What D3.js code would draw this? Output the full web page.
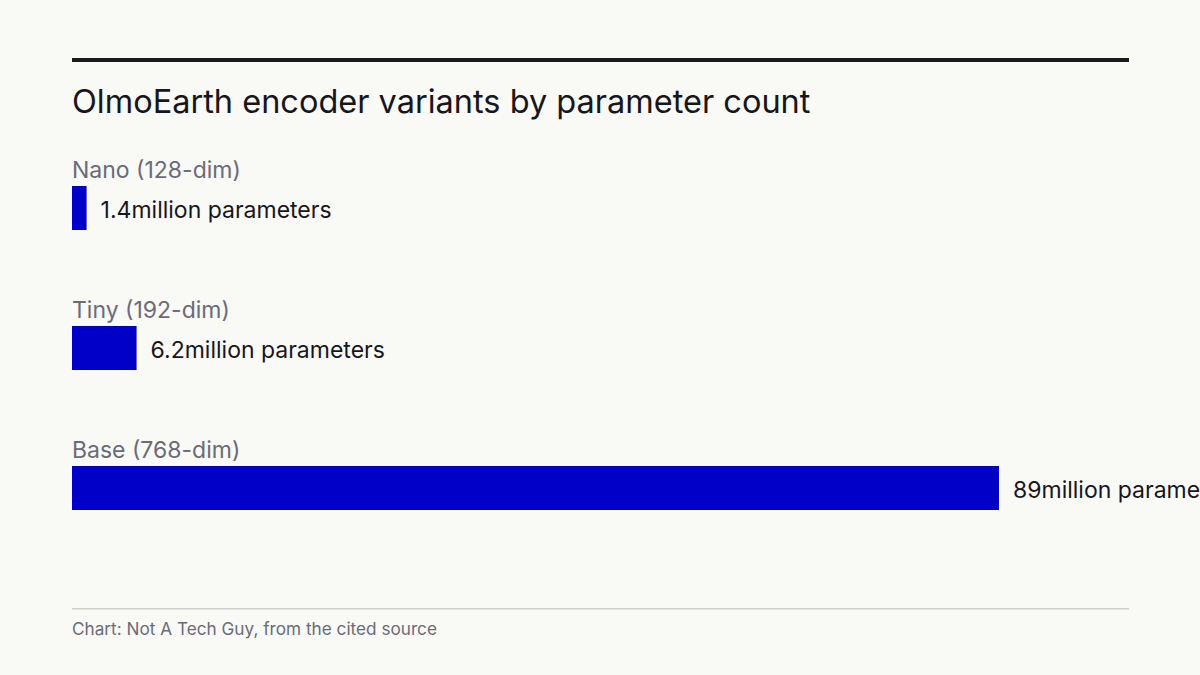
<!DOCTYPE html>
<html><head><meta charset="utf-8">
<script src="https://cdn.jsdelivr.net/npm/d3@7"></script>
<style>body{margin:0;background:#f9f9f5;}svg{display:block;}</style>
</head><body><svg id="c" width="1200" height="675"></svg>
<script>
const categories = ["Nano (128-dim)", "Tiny (192-dim)", "Base (768-dim)"];
const values = [1.4, 6.2, 89];
const unitLabel = "million parameters";
const title = "OlmoEarth encoder variants by parameter count";
const source = "Chart: Not A Tech Guy, from the cited source";

const svg = d3.select("#c");
const font = "Inter, 'Liberation Sans', sans-serif";
svg.append("rect").attr("width",1200).attr("height",675).attr("fill","#f9f9f5");
svg.append("rect").attr("x",72).attr("y",58).attr("width",1057).attr("height",4).attr("fill","#1a1a1f");
svg.append("text").attr("x",72).attr("y",113).text(title)
  .attr("font-family",font).attr("font-size",32.5).attr("fill","#16161c");

const x = d3.scaleLinear().domain([0,89]).range([72,999]);
const y = d3.scaleBand().domain(categories).range([160,580]).paddingInner(0);

const g = svg.selectAll("g.row").data(categories).join("g").attr("class","row")
  .attr("transform",d=>`translate(0,${y(d)})`);
g.append("text").attr("x",72).attr("y",18).text(d=>d)
  .attr("font-family",font).attr("font-size",23).attr("fill","#6b6b78");
g.append("rect").attr("x",x(0)).attr("y",26).attr("height",44)
  .attr("width",(d,i)=>x(values[i])-x(0)).attr("fill","#0000c8");
g.append("text").attr("x",(d,i)=>x(values[i])+14).attr("y",58)
  .text((d,i)=>values[i]+unitLabel)
  .attr("font-family",font).attr("font-size",23).attr("fill","#16161c");

svg.append("rect").attr("x",72).attr("y",608).attr("width",1057).attr("height",1.5).attr("fill","#cfcfcc");
svg.append("text").attr("x",72).attr("y",635).text(source)
  .attr("font-family",font).attr("font-size",17.2).attr("fill","#6b6b78");
</script></body></html>
